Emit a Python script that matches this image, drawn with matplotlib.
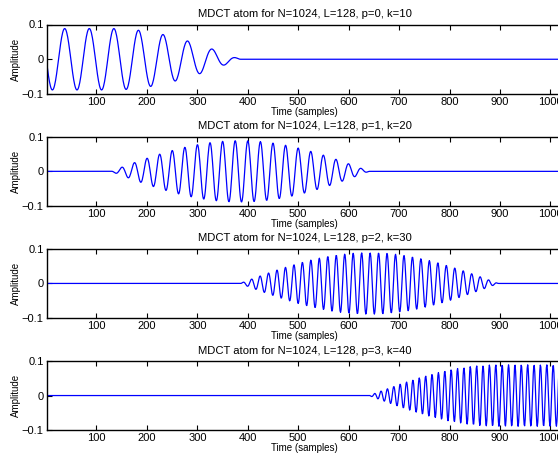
import numpy as np
import matplotlib
matplotlib.use("Agg")
import matplotlib.pyplot as plt

# atom parameters shown in each title
N = 1024
L = 128
frames = [0, 1, 2, 3]
freqs = [10, 20, 30, 40]
yticks = [-0.1, 0, 0.1]
xticks = [100, 200, 300, 400, 500, 600, 700, 800, 900, 1000]


def mdct_atom(N, L, p, k):
    M = 2 * L                     # hop size
    start = p * M - L             # frame start (window length 2M)
    n = np.arange(N)
    loc = n - start
    inside = (loc >= 0) & (loc < 2 * M)
    w = np.where(inside, np.sin(np.pi * (loc + 0.5) / (2 * M)), 0.0)
    # flat window on the signal borders
    if p == 0:
        w[loc < M] = 1.0
    if start + 2 * M > N and p == (N // M) - 1:
        w[(loc >= M)] = 1.0
    x = w * np.cos(np.pi / M * (loc + 0.5 + M / 2) * (k + 0.5))
    return x / np.sqrt(np.sum(x ** 2))


plt.rcParams["font.family"] = ["Liberation Sans", "DejaVu Sans"]
plt.rcParams["font.size"] = 8

fig = plt.figure(figsize=(5.58, 4.54), dpi=100)
W, H = 558.0, 454.0
t = np.arange(1, N + 1)

for i, (p, k) in enumerate(zip(frames, freqs)):
    top = 24.5 + 112.1 * i
    ax = fig.add_axes([46.5 / W, 1 - (top + 69.5) / H, 516 / W, 69.5 / H])
    ax.plot(t, mdct_atom(N, L, p, k), color="#0000ff", linewidth=0.9)
    ax.set_xlim(1, N)
    ax.set_ylim(-0.1, 0.1)
    ax.set_xticks(xticks)
    ax.set_yticks(yticks)
    ax.set_yticklabels(["\u22120.1", "0", "0.1"])
    ax.tick_params(direction="in", top=True, right=True, length=3.5,
                   width=0.8, pad=2, labelsize=8)
    for s in ax.spines.values():
        s.set_linewidth(1.0)
    ax.set_title(f"MDCT atom for N={N}, L={L}, p={p}, k={k}",
                 fontsize=8.1, pad=5.2)
    ax.set_xlabel("Time (samples)", fontsize=7, labelpad=0)
    ax.set_ylabel("Amplitude", fontsize=7, labelpad=0.5)

fig.savefig("out.png", dpi=100)
